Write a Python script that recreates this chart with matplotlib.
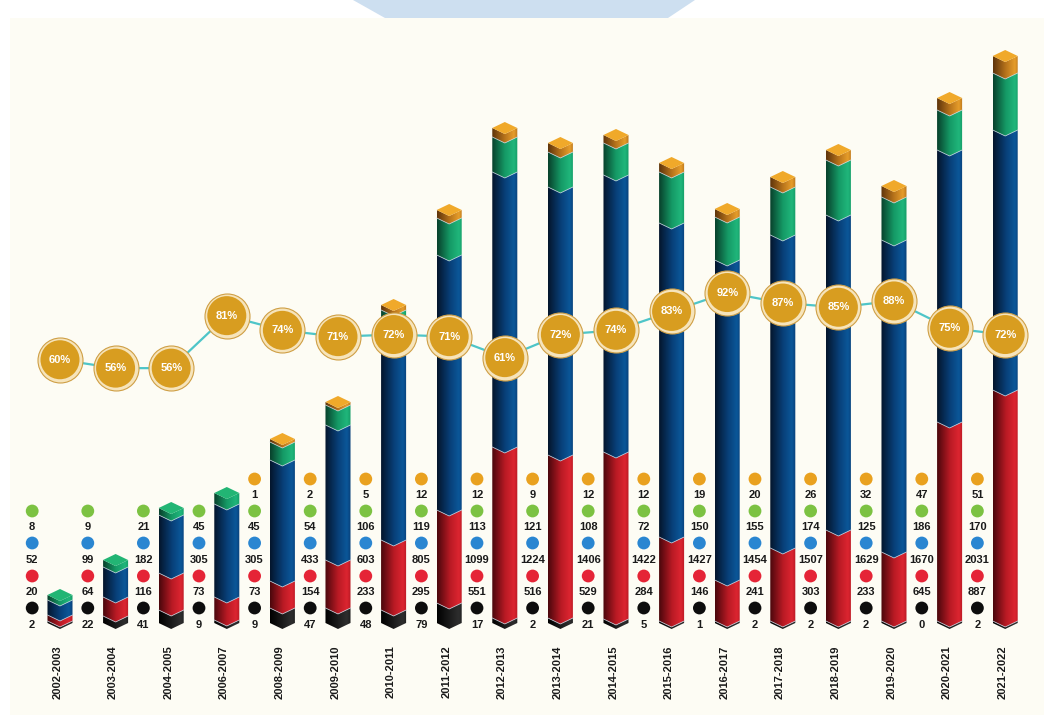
import numpy as np
import matplotlib
matplotlib.use('Agg')
import matplotlib.pyplot as plt
from matplotlib.patches import Polygon, Rectangle
from matplotlib.colors import LinearSegmentedColormap

plt.rcParams['font.family'] = ['Liberation Sans', 'DejaVu Sans']

years = ['2002-2003', '2003-2004', '2004-2005', '2006-2007', '2008-2009', '2009-2010',
         '2010-2011', '2011-2012', '2012-2013', '2013-2014', '2014-2015', '2015-2016',
         '2016-2017', '2017-2018', '2018-2019', '2019-2020', '2020-2021', '2021-2022']

# numbers printed beside each bar
n_black = [2, 22, 41, 9, 9, 47, 48, 79, 17, 2, 21, 5, 1, 2, 2, 2, 0, 2]
n_red = [20, 64, 116, 73, 73, 154, 233, 295, 551, 516, 529, 284, 146, 241, 303, 233, 645, 887]
n_blue = [52, 99, 182, 305, 305, 433, 603, 805, 1099, 1224, 1406, 1422, 1427, 1454, 1507, 1629, 1670, 2031]
n_green = [8, 9, 21, 45, 45, 54, 106, 119, 113, 121, 108, 72, 150, 155, 174, 125, 186, 170]
n_orange = [None, None, None, None, 1, 2, 5, 12, 12, 9, 12, 12, 19, 20, 26, 32, 47, 51]

# percentage in the gold circles
pct = [60, 56, 56, 81, 74, 71, 72, 71, 61, 72, 74, 83, 92, 87, 85, 88, 75, 72]

# drawn bar segment heights (as they appear in the infographic)
h_black = [2, 7, 13, 3, 15, 15, 13, 20, 5, 5, 4, 2, 2, 2, 2, 2, 2, 2]
h_red = [6, 19, 37, 23, 27, 48, 70, 93, 171, 163, 167, 84, 41, 73, 91, 69, 199, 231]
h_blue = [15, 30, 58, 93, 121, 135, 222, 255, 275, 268, 277, 314, 320, 313, 315, 312, 272, 260]
h_green = [5, 7, 7, 11, 18, 20, 8, 37, 35, 35, 32, 51, 43, 48, 55, 43, 40, 57]
h_orange = [0, 0, 0, 0, 3, 3, 5, 8, 9, 9, 8, 9, 8, 10, 10, 11, 12, 17]

seg_cols = {
    'black': ('#000000', '#1c1c1c', '#2e2e2e'),
    'red': ('#4a070c', '#b81a24', '#dc2530'),
    'blue': ('#04152b', '#083f78', '#0b5799'),
    'green': ('#08402b', '#159a66', '#20b67b'),
    'orange': ('#5e340b', '#b8741c', '#e69d2a'),
}
dot_cols = {'black': '#0d0d0d', 'red': '#e52436', 'blue': '#2a86d1',
            'green': '#7cc242', 'orange': '#e9a11f'}

fig = plt.figure(figsize=(10.44, 7.22), dpi=100)
fig.patch.set_facecolor('white')
fig.patches.append(Rectangle((10 / 1044, 0.01), 1, 1 - 18 / 722 - 0.01, transform=fig.transFigure,
                             facecolor='#fdfcf4', edgecolor='none', zorder=-10))
fig.patches.append(Polygon([(353 / 1044, 1), (695 / 1044, 1), (668 / 1044, 1 - 18 / 722), (385 / 1044, 1 - 18 / 722)],
                           closed=True, transform=fig.transFigure, facecolor='#cddff0',
                           edgecolor='none', zorder=-10))

ax = fig.add_axes([0, 0, 1, 1])
ax.set_facecolor('none')
ax.axis('off')

xs = np.arange(len(years))
W = 0.225   # half bar width
D = 6.0     # chevron depth
grad = np.linspace(0, 1, 128).reshape(1, -1)


def draw_segment(x, y0, y1, name):
    pts = [(x - W, y0), (x, y0 - D), (x + W, y0), (x + W, y1), (x, y1 - D), (x - W, y1)]
    poly = Polygon(pts, closed=True, transform=ax.transData, facecolor='none', edgecolor='none')
    ax.add_patch(poly)
    c0, c1, c2 = seg_cols[name]
    cmap = LinearSegmentedColormap.from_list(name, [(0, c0), (0.5, c1), (0.85, c2), (1, c1)])
    im = ax.imshow(grad, cmap=cmap, extent=(x - W, x + W, y0 - D, y1), aspect='auto',
                   interpolation='bilinear', zorder=2)
    im.set_clip_path(poly)
    if y0 > 0:
        ax.plot([x - W, x, x + W], [y0, y0 - D, y0], color='#c9d6e3', lw=0.6, alpha=0.8, zorder=3)


for i in xs:
    y = 0
    top_name = 'green'
    for name, h in [('black', h_black[i]), ('red', h_red[i]), ('blue', h_blue[i]),
                    ('green', h_green[i]), ('orange', h_orange[i])]:
        if h <= 0:
            continue
        draw_segment(i, y, y + h, name)
        y += h
        top_name = name
    cap = '#f0a92a' if top_name == 'orange' else '#22b574'
    ax.add_patch(Polygon([(i - W, y), (i, y + D), (i + W, y), (i, y - D)], closed=True,
                         facecolor=cap, edgecolor='none', zorder=4))

# value columns left of each bar
rows = [('black', n_black, -2, 15), ('red', n_red, 31, 47), ('blue', n_blue, 63, 80),
        ('green', n_green, 96, 112), ('orange', n_orange, 128, 144)]
for i in xs:
    cx = i - 0.5
    for name, vals, ty, dy in rows:
        v = vals[i]
        if v is None:
            continue
        ax.scatter([cx], [dy], s=85, color=dot_cols[name], edgecolors='none', zorder=5)
        ax.text(cx, ty, str(v), ha='center', va='center', fontsize=8, fontweight='bold',
                color='#1a1a1a', zorder=5)
    ax.text(i - 0.05, -49, years[i], rotation=90, ha='center', va='center', fontsize=8,
            fontweight='bold', color='#1a1a1a')

ax.set_xlim(-1.079, 17.698)
ax.set_ylim(-99, 623)

# percentage line with gold circles
ax2 = ax.twinx()
ax2.axis('off')
ax2.set_ylim(-112.5, 231.3)
ax2.plot(xs, pct, color='#4ec5c8', lw=1.6, zorder=1)
ax2.scatter(xs, pct, s=(45 * 0.72) ** 2, color='#f6e4bb', edgecolors='#cf9f45', linewidths=0.8, zorder=2)
ax2.scatter(xs, pct, s=(39 * 0.72) ** 2, color='#d89d20', edgecolors='none', zorder=3)
for x, p in zip(xs, pct):
    ax2.text(x, p, f'{p}%', ha='center', va='center', fontsize=8, fontweight='bold',
             color='white', zorder=4)

fig.savefig('out.png', dpi=100)
